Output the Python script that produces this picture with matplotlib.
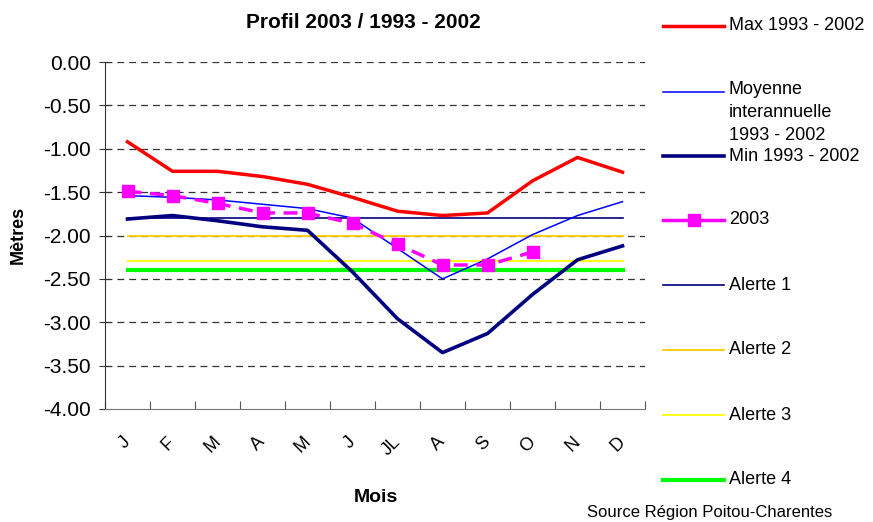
import matplotlib
matplotlib.use('Agg')
import matplotlib.pyplot as plt
from matplotlib.lines import Line2D

plt.rcParams['font.family'] = ['Liberation Sans', 'DejaVu Sans']

months = ['J', 'F', 'M', 'A', 'M', 'J', 'JL', 'A', 'S', 'O', 'N', 'D']
max_9302 = [-0.92, -1.26, -1.26, -1.32, -1.41, -1.56, -1.72, -1.77, -1.74, -1.37, -1.10, -1.27]
moy_9302 = [-1.54, -1.56, -1.59, -1.64, -1.69, -1.80, -2.15, -2.50, -2.27, -1.99, -1.77, -1.61]
min_9302 = [-1.81, -1.77, -1.83, -1.90, -1.94, -2.42, -2.96, -3.35, -3.13, -2.68, -2.28, -2.12]
val_2003 = [-1.49, -1.54, -1.63, -1.74, -1.74, -1.86, -2.10, -2.34, -2.34, -2.19]
alerte1 = -1.80
alerte2 = -2.00
alerte3 = -2.29
alerte4 = -2.40
y_ticks = [0.0, -0.5, -1.0, -1.5, -2.0, -2.5, -3.0, -3.5, -4.0]

fig = plt.figure(figsize=(8.73, 5.22), dpi=100)
ax = fig.add_axes([105 / 873, 1 - 409 / 522, 540 / 873, 347 / 522])

x = list(range(len(months)))
for yv in y_ticks[:-1]:
    ax.axhline(yv, color='#333333', lw=0.9, dashes=(5.5, 4), zorder=0)

ax.plot(x, [alerte1] * 12, color='#000080', lw=1.2, zorder=2)
ax.plot(x, [alerte2] * 12, color='#FFCC00', lw=1.3, zorder=2)
ax.plot(x, [alerte3] * 12, color='#FFFF00', lw=1.3, zorder=2)
ax.plot(x, [alerte4] * 12, color='#00FF00', lw=3, zorder=2)
ax.plot(x, max_9302, color='#FF0000', lw=2.5, zorder=3)
ax.plot(x, moy_9302, color='#0000FF', lw=1.1, zorder=3)
ax.plot(x, min_9302, color='#000080', lw=2.6, zorder=3)
ax.plot(x[:len(val_2003)], val_2003, color='#FF00FF', lw=2.5, dashes=(4, 2.5),
        marker='s', ms=9, zorder=4)

ax.set_xlim(-0.5, 11.5)
ax.set_ylim(-4, 0)
ax.set_yticks(y_ticks)
ax.set_yticklabels(['%.2f' % v for v in y_ticks], fontsize=15)
ax.set_xticks([i - 0.5 for i in range(13)], minor=False)
ax.set_xticklabels([])
ax.set_xticks(x, minor=True)
ax.set_xticklabels(months, minor=True, rotation=45, fontsize=13,
                   rotation_mode='anchor', ha='right', va='center')
ax.tick_params(axis='x', which='major', direction='in', length=6, color='#555555')
ax.tick_params(axis='x', which='minor', length=0, pad=22)
ax.tick_params(axis='y', direction='inout', length=8, color='#333333', pad=6)
ax.spines['top'].set_visible(False)
ax.spines['right'].set_visible(False)
ax.spines['left'].set_color('#333333')
ax.spines['bottom'].set_color('#777777')

fig.text(363 / 873, 1 - 22 / 522, 'Profil 2003 / 1993 - 2002', ha='center', va='center',
         fontsize=15, fontweight='bold')
fig.text(18 / 873, 1 - 235 / 522, 'Mètres', rotation=90, ha='center', va='center',
         fontsize=13, fontweight='bold')
fig.text(376 / 873, 1 - 498 / 522, 'Mois', ha='center', va='center',
         fontsize=14, fontweight='bold')
fig.text(710 / 873, 1 - 512 / 522, 'Source Région Poitou-Charentes', ha='center',
         va='center', fontsize=12)

# legend drawn by hand to keep the uneven spacing
legend_items = [
    ('Max 1993 - 2002', 26, dict(color='#FF0000', lw=2.5)),
    ('Moyenne\ninterannuelle\n1993 - 2002', 92, dict(color='#0000FF', lw=1.1)),
    ('Min 1993 - 2002', 156, dict(color='#000080', lw=2.6)),
    ('2003', 220, dict(color='#FF00FF', lw=2.5)),
    ('Alerte 1', 285, dict(color='#000080', lw=1.2)),
    ('Alerte 2', 350, dict(color='#FFCC00', lw=1.3)),
    ('Alerte 3', 415, dict(color='#FFFF00', lw=1.3)),
    ('Alerte 4', 480, dict(color='#00FF00', lw=3)),
]
for label, ypx, style in legend_items:
    yf = 1 - ypx / 522
    fig.add_artist(Line2D([663 / 873, 724 / 873], [yf, yf], **style))
    if label == '2003':
        fig.add_artist(Line2D([694 / 873], [yf], marker='s', ms=9, color='#FF00FF'))
    if '\n' in label:
        fig.text(729 / 873, 1 - (ypx - 11) / 522, label, ha='left', va='top',
                 fontsize=13, linespacing=1.45)
    else:
        fig.text(729 / 873, yf, label, ha='left', va='center', fontsize=13)

fig.savefig('out.png', dpi=100)
